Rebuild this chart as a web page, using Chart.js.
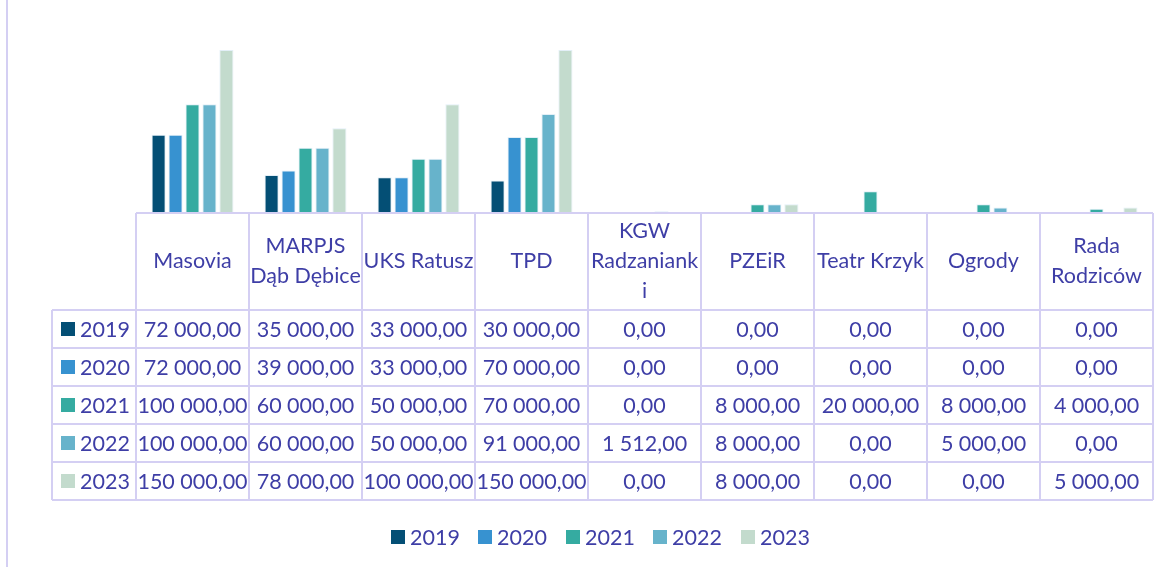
<!DOCTYPE html>
<html>
<head>
<meta charset="utf-8">
<script src="https://cdn.jsdelivr.net/npm/chart.js@4/dist/chart.umd.min.js"></script>
<style>
  body { margin: 0; background: #fff; }
  #wrap { width: 1170px; height: 567px; position: relative; }
</style>
</head>
<body>
<div id="wrap"><canvas id="chart" width="1170" height="567"></canvas></div>
<script>
const categories = ['Masovia', ['MARPJS', 'Dąb Dębice'], 'UKS Ratusz', 'TPD', ['KGW', 'Radzaniank', 'i'], 'PZEiR', 'Teatr Krzyk', 'Ogrody', ['Rada', 'Rodziców']];
const years = ['2019', '2020', '2021', '2022', '2023'];
const v2019 = [72000, 35000, 33000, 30000, 0, 0, 0, 0, 0];
const v2020 = [72000, 39000, 33000, 70000, 0, 0, 0, 0, 0];
const v2021 = [100000, 60000, 50000, 70000, 0, 8000, 20000, 8000, 4000];
const v2022 = [100000, 60000, 50000, 91000, 1512, 8000, 0, 5000, 0];
const v2023 = [150000, 78000, 100000, 150000, 0, 8000, 0, 0, 5000];
const colors = ['#044f75', '#3792d0', '#35aba1', '#67b3cb', '#c3dbcd'];

const textColor = '#3e3ea6';
const gridColor = '#d4cff3';
const font = '21.5px Lato';

function fmt(v) {
  const parts = v.toFixed(2).split('.');
  return parts[0].replace(/\B(?=(\d{3})+(?!\d))/g, ' ') + ',' + parts[1];
}

const allSeries = [v2019, v2020, v2021, v2022, v2023];

// table + legend + left border
const tablePlugin = {
  id: 'table',
  afterDraw(chart) {
    const ctx = chart.ctx;
    const area = chart.chartArea;
    const x = chart.scales.x;
    const n = categories.length;
    const colW = (area.right - area.left) / n;
    const headTop = area.bottom;
    const headH = 97;
    const rowH = 38;
    const bodyTop = headTop + headH;
    const firstLeft = 52;
    const tableBottom = bodyTop + rowH * years.length;

    ctx.save();
    ctx.strokeStyle = gridColor;
    ctx.lineWidth = 2;
    ctx.beginPath();
    ctx.moveTo(7, 0);
    ctx.lineTo(7, 567);
    ctx.stroke();

    // grid
    ctx.beginPath();
    ctx.moveTo(area.left, headTop);
    ctx.lineTo(area.right, headTop);
    for (let r = 0; r <= years.length; r++) {
      ctx.moveTo(firstLeft, bodyTop + r * rowH);
      ctx.lineTo(area.right, bodyTop + r * rowH);
    }
    ctx.moveTo(firstLeft, bodyTop);
    ctx.lineTo(firstLeft, tableBottom);
    for (let c = 0; c <= n; c++) {
      const cx = area.left + c * colW;
      ctx.moveTo(cx, headTop);
      ctx.lineTo(cx, tableBottom);
    }
    ctx.stroke();

    // header labels
    ctx.fillStyle = textColor;
    ctx.font = font;
    ctx.textAlign = 'center';
    ctx.textBaseline = 'middle';
    categories.forEach((cat, i) => {
      const lines = Array.isArray(cat) ? cat : [cat];
      const cx = x.getPixelForValue(i);
      const lh = 30;
      const y0 = headTop + headH / 2 - (lines.length - 1) * lh / 2;
      lines.forEach((ln, k) => ctx.fillText(ln, cx, y0 + k * lh));
    });

    // rows
    years.forEach((yr, r) => {
      const cy = bodyTop + r * rowH + rowH / 2;
      ctx.fillStyle = colors[r];
      ctx.fillRect(61, cy - 7, 14, 14);
      ctx.fillStyle = textColor;
      ctx.textAlign = 'left';
      ctx.fillText(yr, 80, cy + 1);
      ctx.textAlign = 'center';
      allSeries[r].forEach((v, i) => {
        ctx.fillText(fmt(v), x.getPixelForValue(i), cy + 1);
      });
    });

    // legend
    const legX = [391, 478, 566, 653, 741];
    years.forEach((yr, i) => {
      ctx.fillStyle = colors[i];
      ctx.fillRect(legX[i], 530, 14, 14);
      ctx.fillStyle = textColor;
      ctx.textAlign = 'left';
      ctx.fillText(yr, legX[i] + 19, 538);
    });
    ctx.restore();
  }
};

new Chart(document.getElementById('chart'), {
  type: 'bar',
  data: {
    labels: categories,
    datasets: years.map((yr, i) => ({
      label: yr,
      data: allSeries[i],
      backgroundColor: colors[i],
      borderColor: 'rgba(220,235,245,0.8)',
      borderWidth: 1,
      categoryPercentage: 0.75,
      barPercentage: 0.83
    }))
  },
  options: {
    responsive: false,
    animation: false,
    layout: { padding: { left: 136, right: 17, top: 50, bottom: 354 } },
    plugins: { legend: { display: false }, tooltip: { enabled: false } },
    scales: {
      x: { display: false },
      y: { display: false, min: 0, max: 150000 }
    }
  },
  plugins: [tablePlugin]
});
</script>
</body>
</html>
